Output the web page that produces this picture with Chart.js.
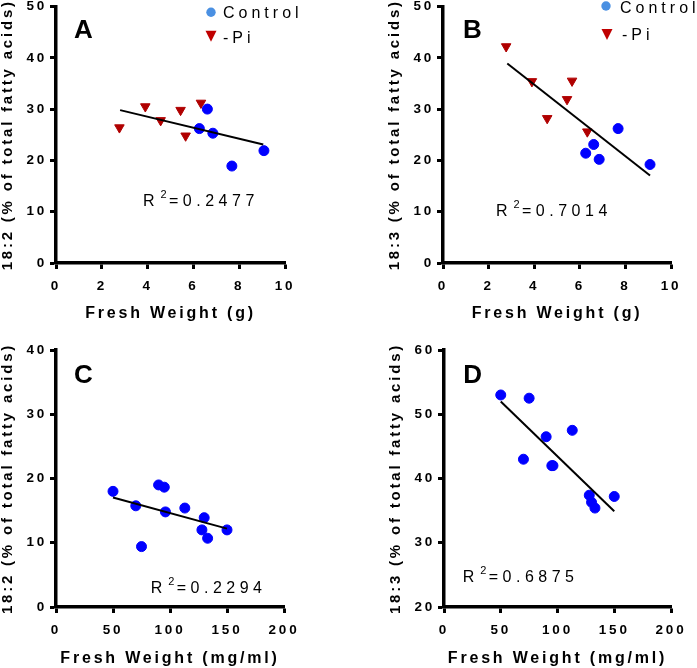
<!DOCTYPE html>
<html>
<head>
<meta charset="utf-8">
<script src="https://cdn.jsdelivr.net/npm/chart.js@4.4.1/dist/chart.umd.min.js"></script>
<style>
  html, body { margin: 0; padding: 0; background: #fff; }
  #wrap { position: relative; width: 697px; height: 668px; overflow: hidden; }
  canvas { position: absolute; }
</style>
</head>
<body>
<div id="wrap">
  <canvas id="panelA" width="348" height="334" style="left:0;top:0"></canvas>
  <canvas id="panelB" width="310" height="334" style="left:387px;top:0"></canvas>
  <canvas id="panelC" width="348" height="334" style="left:0;top:334px"></canvas>
  <canvas id="panelD" width="309" height="334" style="left:388px;top:334px"></canvas>
</div>
<script>
// --- data ---
// panels A/B: fresh weight in g
const ctrlWeight = [6.26, 6.61, 6.85, 7.68, 9.08];
const ctrl18_2 = [26.2, 30.0, 25.3, 18.9, 21.9];
const ctrl18_3 = [21.4, 23.1, 20.2, 26.2, 19.2];
const piWeight = [2.77, 3.9, 4.57, 5.44, 5.66, 6.33];
const pi18_2 = [26.4, 30.5, 27.8, 29.8, 24.8, 31.2];
const pi18_3 = [42.2, 35.4, 28.2, 31.9, 35.5, 25.6];

// panels C/D: fresh weight in mg/ml
const fwMg = [50, 70, 75, 90, 95, 96, 113, 128, 130, 133, 150];
const mg18_2 = [18.0, 15.75, 9.4, 19.0, 18.65, 14.8, 15.4, 12.0, 13.9, 10.7, 12.0];
const mg18_3 = [53.0, 43.0, 52.5, 46.5, 42.0, 42.0, 47.5, 37.4, 36.3, 35.4, 37.2];

// regression lines (end points)
const fitXA = [2.8, 9.05], fitYA = [29.8, 23.1];
const fitXB = [2.82, 9.08], fitYB = [38.9, 17.05];
const fitXC = [50, 150], fitYC = [17.05, 12.2];
const fitXD = [50, 150], fitYD = [51.97, 34.9];

const r2Labels = ['0.2477', '0.7014', '0.2294', '0.6875'];
const seriesNames = ['Control', '-Pi'];

const FONT = "'Liberation Sans', Arial, sans-serif";
Chart.defaults.font.family = FONT;

const pts = (xs, ys) => xs.map((x, i) => ({ x: x, y: ys[i] }));

// letters, legend, R^2 annotation
const decor = {
  id: 'decor',
  beforeDraw(chart) {
    chart.ctx.letterSpacing = '2.8px';
  },
  afterDraw(chart, args, o) {
    const ctx = chart.ctx;
    ctx.save();
    ctx.fillStyle = '#000';
    ctx.textAlign = 'left';
    ctx.textBaseline = 'alphabetic';

    ctx.letterSpacing = '0px';
    ctx.font = 'bold 26px ' + FONT;
    ctx.fillText(o.letter, o.letterAt[0], o.letterAt[1]);

    const [rx, ry] = o.r2At;
    ctx.letterSpacing = '4.5px';
    ctx.font = '16px ' + FONT;
    ctx.fillText('R', rx, ry);
    ctx.font = '11px ' + FONT;
    ctx.fillText('2', rx + 17.5, ry - 8);
    ctx.font = '16px ' + FONT;
    ctx.fillText('=' + o.r2, rx + 26, ry);

    if (o.legend) {
      const L = o.legend;
      ctx.letterSpacing = '4px';
      ctx.font = '16px ' + FONT;
      // circle
      ctx.fillStyle = '#4a90e2';
      ctx.beginPath();
      ctx.arc(L.circle[0], L.circle[1], 4.7, 0, Math.PI * 2);
      ctx.fill();
      ctx.fillStyle = '#000';
      ctx.fillText(seriesNames[0], L.text1[0], L.text1[1]);
      // triangle
      const [tx, ty] = L.tri;
      ctx.fillStyle = '#c00000';
      ctx.beginPath();
      ctx.moveTo(tx - 5.5, ty);
      ctx.lineTo(tx + 5.5, ty);
      ctx.lineTo(tx, ty + 11);
      ctx.closePath();
      ctx.fill();
      ctx.fillStyle = '#000';
      ctx.fillText(seriesNames[1], L.text2[0], L.text2[1]);
    }
    ctx.restore();
  }
};

function axis(min, max, step, title, titleSize, tickPad, titlePad, fitFn) {
  return {
    type: 'linear',
    min: min,
    max: max,
    ticks: {
      stepSize: step,
      autoSkip: false,
      maxRotation: 0,
      color: '#000',
      padding: tickPad,
      font: { family: FONT, size: 13.5, weight: 'bold' }
    },
    grid: {
      drawOnChartArea: false,
      drawTicks: true,
      tickLength: 6,
      tickWidth: 3,
      tickColor: '#000'
    },
    border: { display: true, color: '#000', width: 3.5 },
    title: {
      display: true,
      text: title,
      color: '#000',
      padding: titlePad,
      font: { family: FONT, size: titleSize, weight: 'bold', lineHeight: 1 }
    },
    afterFit: fitFn
  };
}

function makePanel(id, cfg) {
  const canvas = document.getElementById(id);
  const W = canvas.width, H = canvas.height;
  const a = cfg.area;
  const datasets = [
    {
      data: pts(cfg.fitX, cfg.fitY),
      showLine: true,
      borderColor: '#000',
      borderWidth: 2,
      pointRadius: 0,
      order: 0
    }
  ];
  cfg.series.forEach(s => datasets.push(s));

  return new Chart(canvas, {
    type: 'scatter',
    data: { datasets: datasets },
    options: {
      responsive: false,
      animation: false,
      events: [],
      layout: { padding: { top: a.t, right: W - a.r, left: 0, bottom: 0 } },
      scales: {
        x: axis(cfg.x[0], cfg.x[1], cfg.x[2], cfg.xTitle, 16, 9.5, { top: 0, bottom: cfg.xTitlePad },
          s => { s.height = H - a.b; s.paddingLeft = 0; s.paddingRight = 0; }),
        y: axis(cfg.y[0], cfg.y[1], cfg.y[2], cfg.yTitle, 15, 3, { top: 0.5, bottom: 0 },
          s => { s.width = a.l; s.paddingTop = 0; s.paddingBottom = 0; })
      },
      plugins: {
        legend: { display: false },
        tooltip: { enabled: false },
        decor: cfg.decor
      }
    },
    plugins: [decor]
  });
}

const blueDots = (xs, ys) => ({
  label: seriesNames[0],
  data: pts(xs, ys),
  pointStyle: 'circle',
  pointRadius: 5,
  pointBackgroundColor: '#0000ff',
  pointBorderColor: '#0000ff',
  order: 1
});
const redTris = (xs, ys) => ({
  label: seriesNames[1],
  data: pts(xs, ys),
  pointStyle: 'triangle',
  pointRotation: 180,
  pointRadius: 5.5,
  pointBackgroundColor: '#b00000',
  pointBorderColor: '#b00000',
  order: 1
});

makePanel('panelA', {
  area: { l: 56, t: 5, r: 285, b: 263 },
  x: [0, 10, 2], y: [0, 50, 10],
  xTitle: 'Fresh Weight (g)', yTitle: '18:2 (% of total fatty acids)', xTitlePad: 12,
  fitX: fitXA, fitY: fitYA,
  series: [blueDots(ctrlWeight, ctrl18_2), redTris(piWeight, pi18_2)],
  decor: {
    letter: 'A', letterAt: [74, 38], r2: r2Labels[0], r2At: [143, 206],
    legend: { circle: [211, 12.3], text1: [223, 18.3], tri: [211, 30.7], text2: [223, 42.7] }
  }
});

makePanel('panelB', {
  area: { l: 56, t: 5, r: 284, b: 263 },
  x: [0, 10, 2], y: [0, 50, 10],
  xTitle: 'Fresh Weight (g)', yTitle: '18:3 (% of total fatty acids)', xTitlePad: 12,
  fitX: fitXB, fitY: fitYB,
  series: [blueDots(ctrlWeight, ctrl18_3), redTris(piWeight, pi18_3)],
  decor: {
    letter: 'B', letterAt: [76, 38], r2: r2Labels[1], r2At: [109, 216],
    legend: { circle: [219, 6], text1: [233, 13.3], tri: [220, 29], text2: [235, 40] }
  }
});

makePanel('panelC', {
  area: { l: 56, t: 16, r: 284, b: 273 },
  x: [0, 200, 50], y: [0, 40, 10],
  xTitle: 'Fresh Weight (mg/ml)', yTitle: '18:2 (% of total fatty acids)', xTitlePad: 1,
  fitX: fitXC, fitY: fitYC,
  series: [blueDots(fwMg, mg18_2)],
  decor: { letter: 'C', letterAt: [74, 49.3], r2: r2Labels[2], r2At: [150.7, 259.3] }
});

makePanel('panelD', {
  area: { l: 56, t: 16, r: 283, b: 273 },
  x: [0, 200, 50], y: [20, 60, 10],
  xTitle: 'Fresh Weight (mg/ml)', yTitle: '18:3 (% of total fatty acids)', xTitlePad: 1,
  fitX: fitXD, fitY: fitYD,
  series: [blueDots(fwMg, mg18_3)],
  decor: { letter: 'D', letterAt: [75.3, 49.3], r2: r2Labels[3], r2At: [74.7, 247.7] }
});
</script>
</body>
</html>
